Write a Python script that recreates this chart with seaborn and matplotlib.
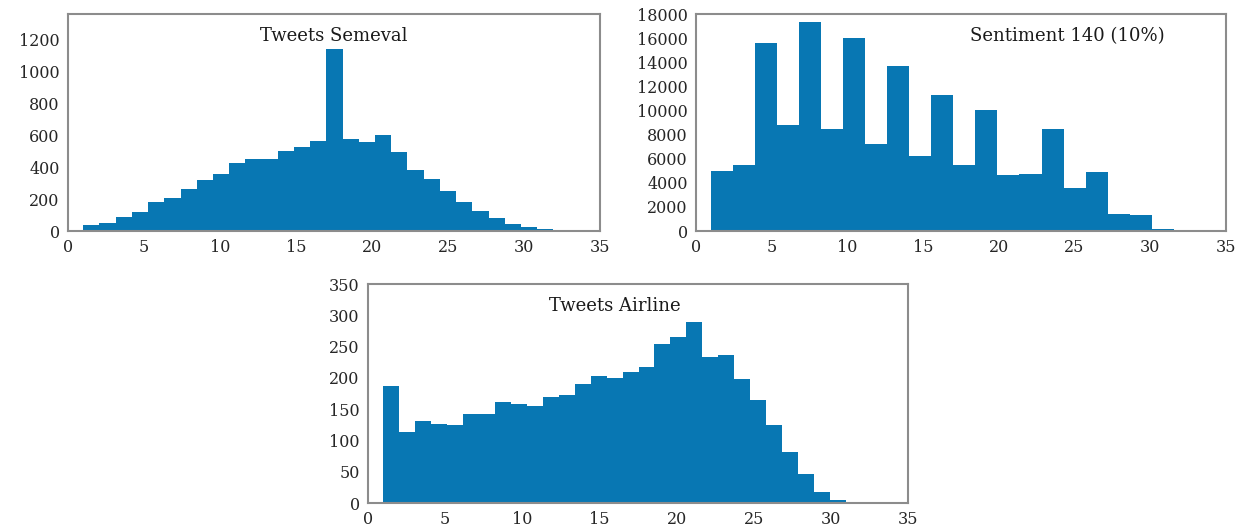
import matplotlib
matplotlib.use("Agg")
import matplotlib.pyplot as plt
import numpy as np
import pandas as pd
import seaborn as sns

# Constants
BAR_COLOR = "#0877b3"
SPINE_COLOR = "#8c8c8c"
TEXT_COLOR = "#262626"
FONT = "DejaVu Serif"
WIDTH = 12.42
HEIGHT = 5.26

# Counts per bin
semeval_counts = [35, 50, 88, 119, 182, 207, 261, 318, 355, 425,
                  454, 454, 500, 525, 567, 1144, 579, 558, 604, 496,
                  385, 324, 253, 182, 123, 82, 42, 25, 15, 8]
sentiment_counts = [5000, 5500, 15600, 8800, 17350, 8450, 16050, 7230, 13700, 6230,
                    11250, 5480, 10020, 4650, 4730, 8450, 3530, 4920, 1450, 1310,
                    170, 110]
airline_counts = [187, 113, 131, 127, 124, 142, 143, 162, 159, 155,
                  170, 172, 190, 203, 200, 210, 217, 254, 265, 290,
                  234, 236, 199, 164, 124, 81, 46, 18, 5, 1]

# Word-count range covered by the bins
semeval_range = (1, 33)
sentiment_range = (1, 33)
airline_range = (1, 32)

x_ticks = [0, 5, 10, 15, 20, 25, 30, 35]


def plot_panel(ax, counts, span, y_max, y_step, title, title_x):
    n_bins = len(counts)
    edges = np.linspace(span[0], span[1], n_bins + 1)
    df = pd.DataFrame({"words": (edges[:-1] + edges[1:]) / 2, "count": counts})
    sns.histplot(
        data=df,
        x="words",
        weights="count",
        bins=n_bins,
        binrange=span,
        element="step",
        fill=True,
        alpha=1,
        linewidth=0,
        color=BAR_COLOR,
        ax=ax,
    )
    ax.set_xlim(0, 35)
    ax.set_ylim(0, y_max)
    ax.set_xticks(x_ticks)
    ax.set_yticks(np.arange(0, y_max + 1, y_step))
    ax.set_xlabel("")
    ax.set_ylabel("")
    for side in ["left", "right", "top", "bottom"]:
        ax.spines[side].set_visible(True)
        ax.spines[side].set_color(SPINE_COLOR)
        ax.spines[side].set_linewidth(1.5)
    ax.tick_params(
        direction="out", length=4, width=1, color=SPINE_COLOR,
        labelsize=11.5, labelcolor=TEXT_COLOR, pad=2,
    )
    ax.text(title_x, 0.90, title, transform=ax.transAxes, ha="center", va="center",
            fontsize=13, color="#1a1a1a", family=FONT)


sns.set_style("white")
plt.rcParams["font.family"] = [FONT, "DejaVu Sans"]

fig = plt.figure(figsize=(WIDTH, HEIGHT), dpi=100)
ax1 = fig.add_axes([0.0548, 0.5608, 0.4283, 0.4125])
ax2 = fig.add_axes([0.5604, 0.5608, 0.4267, 0.4125])
ax3 = fig.add_axes([0.2963, 0.0437, 0.4348, 0.4163])

plot_panel(ax1, semeval_counts, semeval_range, 1360, 200, "Tweets Semeval", 0.5)
plot_panel(ax2, sentiment_counts, sentiment_range, 18000, 2000, "Sentiment 140 (10%)", 0.70)
plot_panel(ax3, airline_counts, airline_range, 350, 50, "Tweets Airline", 0.457)

fig.savefig("out.png", dpi=100, facecolor="white")
